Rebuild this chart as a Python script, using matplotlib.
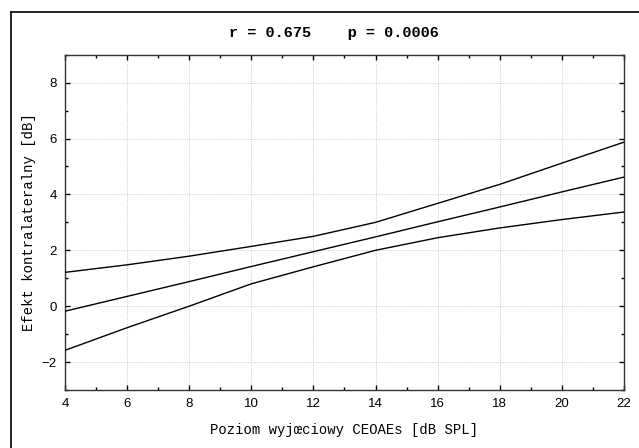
import matplotlib
matplotlib.use("Agg")
import matplotlib.pyplot as plt
from matplotlib.lines import Line2D
from matplotlib.ticker import MultipleLocator

# Data
x_vals = [4, 6, 8, 10, 12, 14, 16, 18, 20, 22]
regression = [-0.18, 0.35, 0.88, 1.42, 1.95, 2.48, 3.02, 3.55, 4.09, 4.62]
upper_ci = [1.21, 1.48, 1.79, 2.14, 2.50, 3.00, 3.68, 4.36, 5.12, 5.87]
lower_ci = [-1.58, -0.77, 0.0, 0.80, 1.41, 2.00, 2.45, 2.80, 3.10, 3.37]

title_text = "r = 0.675    p = 0.0006"
x_label = "Poziom wyjœciowy CEOAEs [dB SPL]"
y_label = "Efekt kontralateralny [dB]"
x_ticks = [4, 6, 8, 10, 12, 14, 16, 18, 20, 22]
y_ticks = [-2, 0, 2, 4, 6, 8]

fig = plt.figure(figsize=(6.39, 4.48), dpi=100)
ax = fig.add_axes([65 / 639, 1 - 390 / 448, (624 - 65) / 639, (390 - 54.7) / 448])

for ys in (upper_ci, regression, lower_ci):
    ax.plot(x_vals, ys, color="black", lw=1.0, zorder=3)

ax.set_xlim(4, 22)
ax.set_ylim(-3, 9)
ax.set_xticks(x_ticks)
ax.set_yticks(y_ticks)
ax.xaxis.set_minor_locator(MultipleLocator(1))
ax.yaxis.set_minor_locator(MultipleLocator(1))
ax.tick_params(which="both", direction="in", top=True, right=True,
               width=1.0, color="black")
ax.tick_params(which="major", length=3.5, labelsize=9.5, pad=6)
ax.tick_params(which="minor", length=2.5)
for lab in ax.get_xticklabels() + ax.get_yticklabels():
    lab.set_fontfamily("Liberation Sans")

ax.grid(True, which="major", color="#c8c8c8", linestyle=(0, (1, 1.5)), lw=0.7)
for s in ax.spines.values():
    s.set_linewidth(1.0)
    s.set_color("#333333")

ax.set_xlabel(x_label, fontfamily="Liberation Mono", fontsize=10, labelpad=9)
ax.yaxis.set_label_coords(-0.052, 0.5)
ax.set_ylabel(y_label, fontfamily="Liberation Mono", fontsize=10)

fig.text(334 / 639, 1 - 33 / 448, title_text, fontfamily="Liberation Mono",
         fontweight="bold", fontsize=11, ha="center", va="center")

# outer frame (top and left edges visible)
fig.add_artist(Line2D([11 / 639, 1.0], [1 - 12 / 448, 1 - 12 / 448],
                      transform=fig.transFigure, color="black", lw=1.2))
fig.add_artist(Line2D([11 / 639, 11 / 639], [0, 1 - 12 / 448],
                      transform=fig.transFigure, color="black", lw=1.2))

fig.savefig("out.png", dpi=100)
